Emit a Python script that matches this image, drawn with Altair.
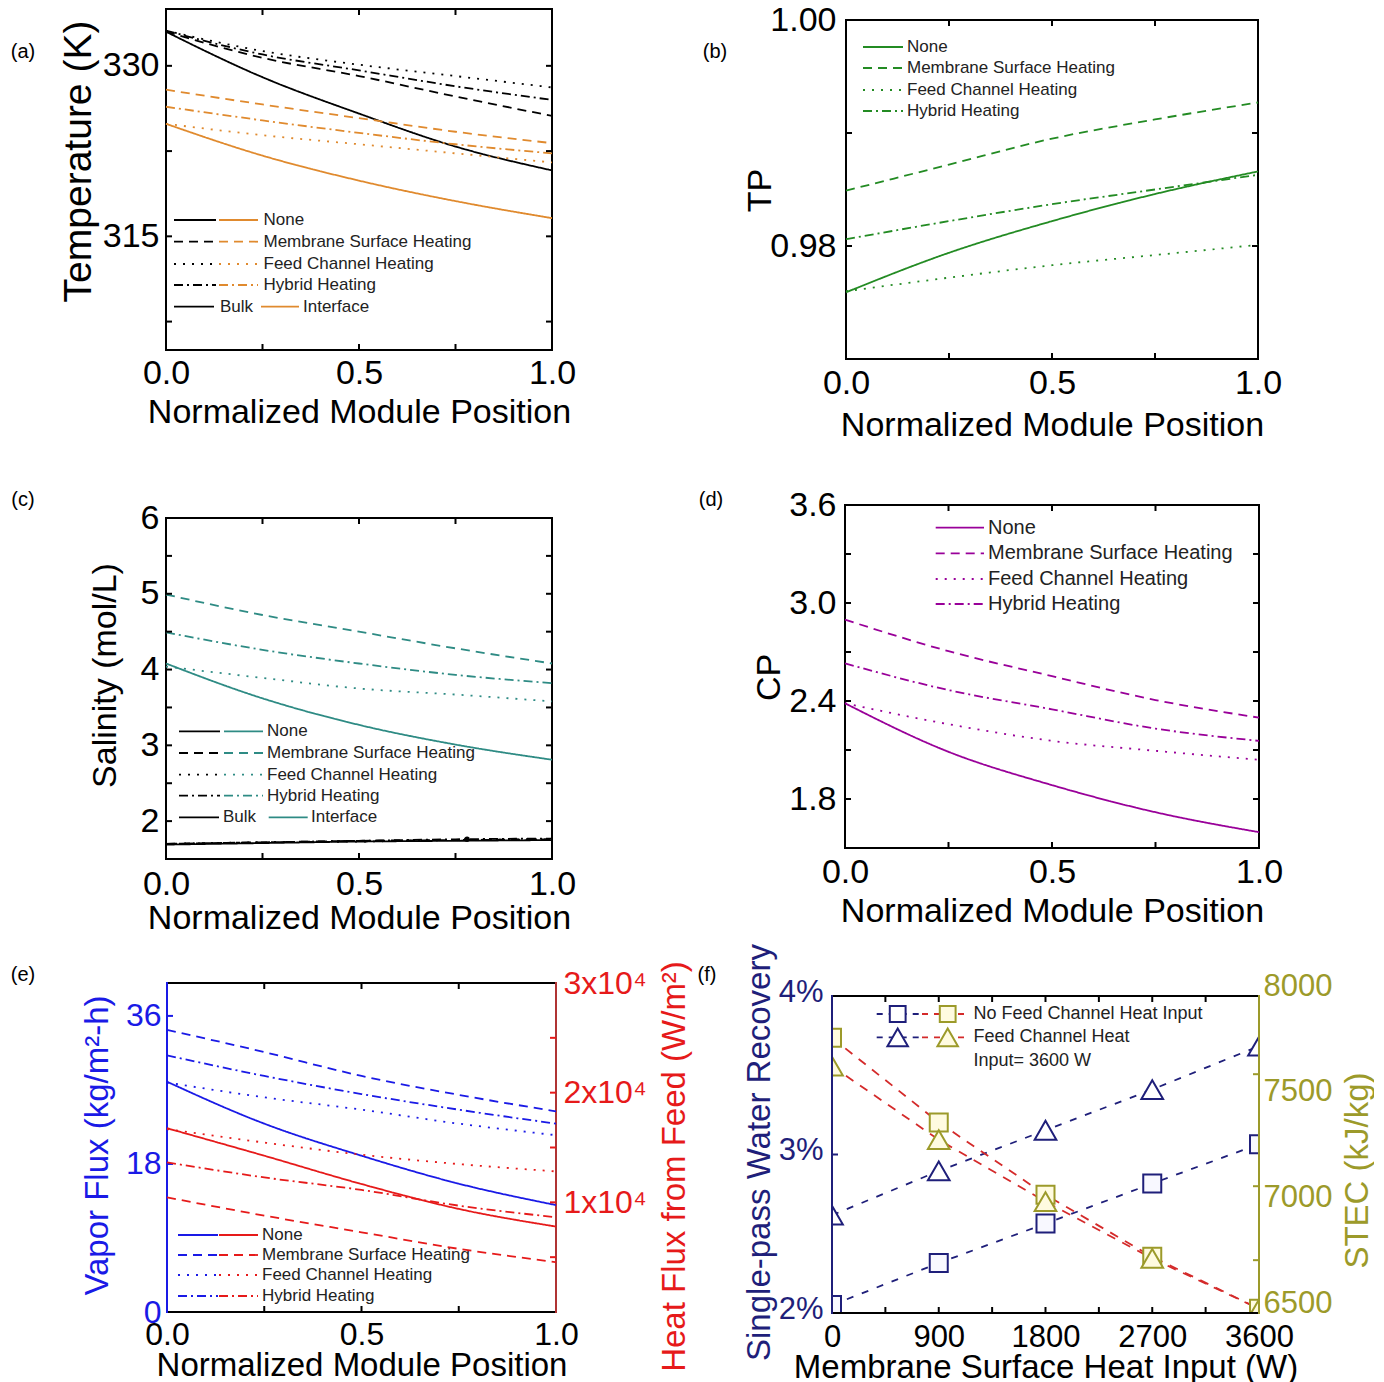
import altair as alt
import pandas as pd

FONT = "Liberation Sans"

# ---------------- data ----------------
POS = [0.0, 0.25, 0.5, 0.75, 1.0]
SERIES = ["None", "Membrane Surface Heating", "Feed Channel Heating", "Hybrid Heating"]

# (a) temperature (K)
A_BULK_NONE = [333.0, 329.0, 325.8, 322.9, 320.8]
A_BULK_MSH = [333.0, 330.7, 329.1, 327.3, 325.6]
A_BULK_FCH = [333.1, 331.3, 330.1, 329.1, 328.1]
A_BULK_HYB = [333.1, 331.0, 329.6, 328.2, 327.0]
A_INT_NONE = [324.9, 322.1, 319.9, 318.1, 316.6]
A_INT_MSH = [327.9, 326.6, 325.4, 324.2, 323.2]
A_INT_FCH = [324.9, 323.9, 323.1, 322.3, 321.5]
A_INT_HYB = [326.4, 325.2, 324.1, 323.1, 322.3]
A_YLABELS = [315, 330]
A_YTICKS = [307.5, 315, 322.5, 330]

# (b) TP
B_NONE = [0.9759, 0.9794, 0.9822, 0.9846, 0.9866]
B_MSH = [0.9849, 0.9872, 0.9895, 0.9912, 0.9927]
B_FCH = [0.9760, 0.9772, 0.9783, 0.9792, 0.9801]
B_HYB = [0.9806, 0.9822, 0.9837, 0.9850, 0.9863]
B_YLABELS = [0.98, 1.00]
B_YTICKS = [0.98, 0.99]

# (c) salinity (mol/L)
C_BULK_NONE = [1.69, 1.71, 1.73, 1.74, 1.75]
C_BULK_MSH = [1.70, 1.72, 1.74, 1.75, 1.76]
C_BULK_FCH = [1.70, 1.72, 1.73, 1.75, 1.76]
C_BULK_HYB = [1.70, 1.72, 1.74, 1.76, 1.77]
C_INT_NONE = [4.08, 3.62, 3.27, 3.01, 2.81]
C_INT_MSH = [4.99, 4.72, 4.50, 4.28, 4.08]
C_INT_FCH = [4.04, 3.89, 3.75, 3.67, 3.58]
C_INT_HYB = [4.49, 4.26, 4.08, 3.93, 3.82]
C_DOT_X = [0.78]
C_DOT_Y = [1.76]
C_YLABELS = [2, 3, 4, 5, 6]
C_YTICKS = [2, 2.5, 3, 3.5, 4, 4.5, 5, 5.5]

# (d) CP
D_NONE = [2.386, 2.089, 1.885, 1.719, 1.597]
D_MSH = [2.898, 2.705, 2.552, 2.406, 2.298]
D_FCH = [2.386, 2.258, 2.156, 2.095, 2.040]
D_HYB = [2.630, 2.467, 2.349, 2.231, 2.156]
D_YLABELS = [1.8, 2.4, 3.0, 3.6]
D_YTICKS = [1.8, 2.1, 2.4, 2.7, 3.0, 3.3]

# (e) vapor flux (kg/m2-h) and heat flux (W/m2)
E_VAP_NONE = [28.0, 22.9, 19.0, 15.6, 13.0]
E_VAP_MSH = [34.3, 31.6, 28.7, 26.4, 24.4]
E_VAP_FCH = [27.9, 26.1, 24.6, 22.9, 21.5]
E_VAP_HYB = [31.2, 28.7, 26.5, 24.6, 22.9]
E_HEAT_NONE = [16760, 14250, 11670, 9400, 7790]
E_HEAT_MSH = [10450, 8790, 7270, 5760, 4550]
E_HEAT_FCH = [16670, 15450, 14340, 13490, 12820]
E_HEAT_HYB = [13640, 12270, 11130, 9700, 8640]
E_VLABELS = [0, 18, 36]
E_VTICKS = [18, 36]
E_HLABELS = [10000, 20000, 30000]
E_HLABEL_TEXT = ["1x10⁴", "2x10⁴", "3x10⁴"]
E_HTICKS = [5000, 10000, 15000, 20000, 25000]

# (f) recovery (%) and STEC (kJ/kg) vs membrane surface heat input (W)
F_HEAT = [0, 900, 1800, 2700, 3600]
F_REC_NOFCH = [2.05, 2.315, 2.564, 2.817, 3.065]
F_REC_FCH = [2.617, 2.896, 3.153, 3.410, 3.684]
F_STEC_NOFCH = [7802, 7402, 7059, 6766, 6520]
F_STEC_FCH = [7668, 7320, 7027, 6758, 6520]
F_XLABELS = [0, 900, 1800, 2700, 3600]
F_XTICKS = [450, 900, 1350, 1800, 2250, 2700, 3150]
F_LLABELS = [2, 3, 4]
F_LTICKS = [3]
F_RLABELS = [6500, 7000, 7500, 8000]
F_RTICKS = [6750, 7100, 7630]
X_TICKS = [0.25, 0.5, 0.75]

# ---------------- styles ----------------
BLACK = "#000000"
ORANGE = "#e08a2e"
GREEN = "#238b23"
TEAL = "#2e8b84"
PURPLE = "#990099"
BLUE = "#1a1ae6"
RED = "#e61a1a"
DARKRED = "#b03434"
NAVY = "#1f1f7a"
OLIVE = "#9c9a2a"
FRED = "#d42a2a"
LEG = "#222222"
DASH = {"None": [1, 0], "Membrane Surface Heating": [9, 6],
        "Feed Channel Heating": [2, 7], "Hybrid Heating": [9, 4, 2, 4]}
ONE = pd.DataFrame({"k": [0]})
CW, CH = 427, 377  # grid cell size; each frame sits at an offset inside its cell


def long(xs, named):
    rows = []
    for s, ys in named:
        for x, y in zip(xs, ys):
            rows.append({"x": x, "y": y, "series": s})
    return pd.DataFrame(rows)


class Panel:
    def __init__(self, ox, oy, W, H, cw=CW, ch=CH):
        self.ox, self.oy, self.W, self.H = ox, oy, W, H
        self.cw, self.ch = cw, ch

    def xscale(self, dom):
        return alt.Scale(domain=dom, range=[self.ox, self.ox + self.W], nice=False, zero=False)

    def yscale(self, dom):
        return alt.Scale(domain=dom, range=[self.oy + self.H, self.oy], nice=False, zero=False)

    def xaxis(self, values, fmt, size, pad, title, title_y, tsize=34):
        return alt.Axis(values=values, format=fmt, ticks=False, tickSize=0, domain=False, grid=False,
                        offset=-(self.ch - self.oy - self.H),
                        labelFont=FONT, labelFontSize=size, labelColor="black", labelPadding=pad,
                        labelBaseline="alphabetic", labelFlush=False, labelOverlap=False,
                        title=title, titleFont=FONT, titleFontSize=tsize, titleFontWeight="normal",
                        titleColor="black", titleY=title_y, titleBaseline="alphabetic")

    def yaxis(self, values, size, pad, title, tx, ty, tsize=34, orient="left", color="black", fmt=None,
              label_expr=None, label_offset=0):
        off = -self.ox if orient == "left" else -(self.cw - self.ox - self.W)
        kw = dict(values=values, ticks=False, tickSize=0, grid=False, domain=False, orient=orient,
                  offset=off,
                  labelFont=FONT, labelFontSize=size, labelColor=color, labelPadding=pad,
                  labelAlign="right" if orient == "left" else "left", labelBaseline="middle",
                  labelOffset=label_offset, labelFlush=False, labelOverlap=False,
                  title=title, titleFont=FONT, titleFontSize=tsize, titleFontWeight="normal",
                  titleColor=color, titleAngle=270, titleAlign="center", titleBaseline="alphabetic",
                  titleX=tx, titleY=self.oy + ty)
        if fmt:
            kw["format"] = fmt
        if label_expr:
            kw["labelExpr"] = label_expr
        return alt.Axis(**kw)

    def seg(self, x0, x1, y, color, dash, width=1.8):
        return alt.Chart(ONE).mark_rule(color=color, strokeWidth=width, strokeDash=dash).encode(
            x=alt.value(self.ox + x0), x2=alt.value(self.ox + x1), y=alt.value(self.oy + y))

    def vseg(self, x, y0, y1, color, width=2):
        return alt.Chart(ONE).mark_rule(color=color, strokeWidth=width).encode(
            x=alt.value(self.ox + x), y=alt.value(self.oy + y0), y2=alt.value(self.oy + y1))

    def text(self, x, y, s, size=17, color=LEG, align="left"):
        return alt.Chart(ONE).mark_text(font=FONT, fontSize=size, color=color, align=align,
                                        baseline="middle").encode(
            x=alt.value(self.ox + x), y=alt.value(self.oy + y), text=alt.value(s))

    def frame(self, left=BLACK, right=BLACK):
        W, H = self.W, self.H
        return [self.seg(-1, W + 1, 0, BLACK, [1, 0], 2), self.seg(-1, W + 1, H, BLACK, [1, 0], 2),
                self.vseg(0, -1, H + 1, left), self.vseg(W, -1, H + 1, right)]

    def xticks(self, vals, xs, xa, L=6, color=BLACK):
        df = pd.DataFrame({"x": vals})
        base = alt.Chart(df).mark_rule(color=color, strokeWidth=2)
        yb, yt = self.oy + self.H, self.oy
        return [base.encode(x=alt.X("x:Q", scale=xs, axis=xa), y=alt.value(yb), y2=alt.value(yb - L)),
                base.encode(x=alt.X("x:Q", scale=xs, axis=xa), y=alt.value(yt), y2=alt.value(yt + L))]

    def yticks(self, vals, ys, ya, color=BLACK, L=6, sides=("left", "right")):
        df = pd.DataFrame({"y": vals})
        base = alt.Chart(df).mark_rule(color=color, strokeWidth=2)
        out = []
        xl, xr = self.ox, self.ox + self.W
        if "left" in sides:
            out.append(base.encode(y=alt.Y("y:Q", scale=ys, axis=ya), x=alt.value(xl), x2=alt.value(xl + L)))
        if "right" in sides:
            out.append(base.encode(y=alt.Y("y:Q", scale=ys, axis=ya), x=alt.value(xr), x2=alt.value(xr - L)))
        return out


def dash_enc():
    return alt.StrokeDash("series:N", scale=alt.Scale(domain=SERIES, range=[DASH[s] for s in SERIES]),
                          legend=None)


def line_layer(df, color, xs, ys, xa, ya, width=1.8):
    return alt.Chart(df).mark_line(color=color, strokeWidth=width, interpolate="monotone").encode(
        x=alt.X("x:Q", scale=xs, axis=xa),
        y=alt.Y("y:Q", scale=ys, axis=ya),
        strokeDash=dash_enc(),
        detail="series:N",
    )


XT = "Normalized Module Position"

# ---------------- (a) ----------------
p = Panel(0, 0, 386, 341)
xs = p.xscale([0, 1]); ys = p.yscale([305, 335])
xa = p.xaxis([0, 0.5, 1], ".1f", 34, 33, XT, 72)
ya = p.yaxis(A_YLABELS, 34, 7, "Temperature (K)", -76, 152, tsize=39, fmt="d")
bulkA = long(POS, [("None", A_BULK_NONE), ("Membrane Surface Heating", A_BULK_MSH),
                   ("Feed Channel Heating", A_BULK_FCH), ("Hybrid Heating", A_BULK_HYB)])
intA = long(POS, [("None", A_INT_NONE), ("Membrane Surface Heating", A_INT_MSH),
                  ("Feed Channel Heating", A_INT_FCH), ("Hybrid Heating", A_INT_HYB)])
L = p.frame() + [line_layer(bulkA, BLACK, xs, ys, xa, ya), line_layer(intA, ORANGE, xs, ys, xa, ya)]
L += p.xticks(X_TICKS, xs, xa) + p.yticks(A_YTICKS, ys, ya)
for s, ry in zip(SERIES, [211, 232.7, 255, 276]):
    L += [p.seg(8, 50, ry, BLACK, DASH[s]), p.seg(53, 92, ry, ORANGE, DASH[s]), p.text(97.5, ry, s)]
L += [p.seg(8, 48, 297.7, BLACK, DASH["None"]), p.text(54, 297.7, "Bulk"),
      p.seg(95, 133, 297.7, ORANGE, DASH["None"]), p.text(137, 297.7, "Interface"),
      p.text(-143, 43, "(a)", 20, BLACK, "center")]
pa = alt.layer(*L).properties(width=p.cw, height=p.ch)

# ---------------- (b) ----------------
p = Panel(14, 11, 412, 339)
xs = p.xscale([0, 1]); ys = p.yscale([0.97, 1.0])
xa = p.xaxis([0, 0.5, 1], ".1f", 34, 34, XT, 76)
ya = p.yaxis(B_YLABELS, 34, 10, "TP", -76, 170, fmt=".2f")
dfB = long(POS, [("None", B_NONE), ("Membrane Surface Heating", B_MSH),
                 ("Feed Channel Heating", B_FCH), ("Hybrid Heating", B_HYB)])
L = p.frame() + [line_layer(dfB, GREEN, xs, ys, xa, ya)]
L += p.xticks(X_TICKS, xs, xa) + p.yticks(B_YTICKS, ys, ya)
for s, ry in zip(SERIES, [27, 48, 70, 91]):
    L += [p.seg(17, 57, ry, GREEN, DASH[s]), p.text(61, ry, s)]
L += [p.text(-131, 32, "(b)", 20, BLACK, "center")]
pb = alt.layer(*L).properties(width=p.cw, height=p.ch)

# ---------------- (c) ----------------
p = Panel(0, 35, 386, 341)
xs = p.xscale([0, 1]); ys = p.yscale([1.5, 6])
xa = p.xaxis([0, 0.5, 1], ".1f", 34, 35, XT, 69)
ya = p.yaxis(C_YLABELS, 34, 7, "Salinity (mol/L)", -51, 157, fmt="d")
bulkC = long(POS, [("None", C_BULK_NONE), ("Membrane Surface Heating", C_BULK_MSH),
                   ("Feed Channel Heating", C_BULK_FCH), ("Hybrid Heating", C_BULK_HYB)])
intC = long(POS, [("None", C_INT_NONE), ("Membrane Surface Heating", C_INT_MSH),
                  ("Feed Channel Heating", C_INT_FCH), ("Hybrid Heating", C_INT_HYB)])
dotC = pd.DataFrame({"x": C_DOT_X, "y": C_DOT_Y})
L = p.frame() + [line_layer(bulkC, BLACK, xs, ys, xa, ya), line_layer(intC, TEAL, xs, ys, xa, ya),
                 alt.Chart(dotC).mark_point(filled=True, color=BLACK, size=30, opacity=1).encode(
                     x=alt.X("x:Q", scale=xs, axis=xa), y=alt.Y("y:Q", scale=ys, axis=ya))]
L += p.xticks(X_TICKS, xs, xa) + p.yticks(C_YTICKS, ys, ya)
for s, ry in zip(SERIES, [213.4, 235, 256.7, 277.7]):
    L += [p.seg(13, 54, ry, BLACK, DASH[s]), p.seg(58, 97, ry, TEAL, DASH[s]), p.text(101, ry, s)]
L += [p.seg(13, 53, 299.4, BLACK, DASH["None"]), p.text(57, 299.4, "Bulk"),
      p.seg(102.7, 141.7, 299.4, TEAL, DASH["None"]), p.text(145, 299.4, "Interface"),
      p.text(-143, -18, "(c)", 20, BLACK, "center")]
pc = alt.layer(*L).properties(width=p.cw, height=p.ch)

# ---------------- (d) ----------------
p = Panel(13, 22, 414, 343)
xs = p.xscale([0, 1]); ys = p.yscale([1.5, 3.6])
xa = p.xaxis([0, 0.5, 1], ".1f", 34, 34, XT, 73)
ya = p.yaxis(D_YLABELS, 34, 9, "CP", -66, 172, fmt=".1f")
dfD = long(POS, [("None", D_NONE), ("Membrane Surface Heating", D_MSH),
                 ("Feed Channel Heating", D_FCH), ("Hybrid Heating", D_HYB)])
L = p.frame() + [line_layer(dfD, PURPLE, xs, ys, xa, ya)]
L += p.xticks(X_TICKS, xs, xa) + p.yticks(D_YTICKS, ys, ya)
for s, ry in zip(SERIES, [22.7, 48.3, 74, 99]):
    L += [p.seg(90.7, 139, ry, PURPLE, DASH[s]), p.text(143, ry, s, 20)]
L += [p.text(-134, -5, "(d)", 20, BLACK, "center")]
pdd = alt.layer(*L).properties(width=p.cw, height=p.ch)

# ---------------- (e) ----------------
p = Panel(1, 26, 389, 329)
xs = p.xscale([0, 1]); ysv = p.yscale([0, 40]); ysh = p.yscale([0, 30000])
xa = p.xaxis([0, 0.5, 1], ".1f", 32, 32, XT, 63, tsize=33)
yav = p.yaxis(E_VLABELS, 32, 6, "Vapor Flux (kg/m²-h)", -60, 162, tsize=33, color=BLUE, fmt="d")
hexpr = "".join(f"datum.value == {v} ? '{t}' : " for v, t in zip(E_HLABELS, E_HLABEL_TEXT)) + "''"
yah = p.yaxis(E_HLABELS, 32, 7, "Heat Flux from Feed (W/m²)", 128, 183, tsize=33, orient="right",
              color=RED, label_expr=hexpr)
vapE = long(POS, [("None", E_VAP_NONE), ("Membrane Surface Heating", E_VAP_MSH),
                  ("Feed Channel Heating", E_VAP_FCH), ("Hybrid Heating", E_VAP_HYB)])
heatE = long(POS, [("None", E_HEAT_NONE), ("Membrane Surface Heating", E_HEAT_MSH),
                   ("Feed Channel Heating", E_HEAT_FCH), ("Hybrid Heating", E_HEAT_HYB)])
blue = p.frame(BLUE, DARKRED) + [line_layer(vapE, BLUE, xs, ysv, xa, yav)]
blue += p.xticks(X_TICKS, xs, xa) + p.yticks(E_VTICKS, ysv, yav, BLUE, sides=("left",))
for s, ry in zip(SERIES, [252, 272, 292, 313]):
    blue += [p.seg(11, 51, ry, BLUE, DASH[s]), p.seg(52, 91, ry, RED, DASH[s]), p.text(95, ry, s)]
blue += [p.text(-144, -8, "(e)", 20, BLACK, "center")]
red = [line_layer(heatE, RED, xs, ysh, xa, yah)] + p.yticks(E_HTICKS, ysh, yah, RED, sides=("right",))
pe = alt.layer(alt.layer(*blue), alt.layer(*red)).resolve_scale(y="independent").properties(
    width=p.cw, height=p.ch)

# ---------------- (f) ----------------
# the view ends at the frame's left, right and bottom edges so edge markers are clipped like the original
p = Panel(0, 39, 427, 317, cw=427, ch=356)
xs = p.xscale([0, 3600]); ysl = p.yscale([2, 4]); ysr = p.yscale([6500, 8000])
xa = p.xaxis(F_XLABELS, "d", 31, 33, "Membrane Surface Heat Input (W)", 64, tsize=33)
yal = p.yaxis(F_LLABELS, 31, 9, "Single-pass Water Recovery", -63, 156, tsize=33, color=NAVY,
              label_expr="datum.value + '%'", label_offset=-4)
yar = p.yaxis(F_RLABELS, 31, 4, "STEC (kJ/kg)", 108, 174, tsize=33, orient="right", color=OLIVE,
              fmt="d", label_offset=-10)
recF = long(F_HEAT, [("no", F_REC_NOFCH), ("fch", F_REC_FCH)])
stecF = long(F_HEAT, [("no", F_STEC_NOFCH), ("fch", F_STEC_FCH)])


def markers(df, series, shape, size, stroke, fill, ys, ya):
    return alt.Chart(df[df.series == series]).mark_point(
        shape=shape, size=size, filled=True, fill=fill, stroke=stroke, strokeWidth=2,
        opacity=1, fillOpacity=1, clip=True).encode(
        x=alt.X("x:Q", scale=xs, axis=xa), y=alt.Y("y:Q", scale=ys, axis=ya))


def lmark(x, y, shape, size, stroke, fill):
    return alt.Chart(ONE).mark_point(shape=shape, size=size, filled=True, fill=fill, stroke=stroke,
                                     strokeWidth=2, opacity=1, fillOpacity=1).encode(
        x=alt.value(p.ox + x), y=alt.value(p.oy + y))


navy = [
    alt.Chart(recF).mark_line(color=NAVY, strokeWidth=1.8, strokeDash=[7, 9], clip=True).encode(
        x=alt.X("x:Q", scale=xs, axis=xa), y=alt.Y("y:Q", scale=ysl, axis=yal), detail="series:N"),
    markers(recF, "no", "square", 324, NAVY, "#f8f8ff", ysl, yal),
    markers(recF, "fch", "triangle-up", 470, NAVY, "#ffffff", ysl, yal)]
navy += p.xticks(F_XTICKS, xs, xa) + p.yticks(F_LTICKS, ysl, yal, NAVY, sides=("left",))
navy += [p.seg(44.7, 90, 18, NAVY, [6, 6]), p.seg(90, 137, 18, FRED, [6, 6]),
         p.seg(44.7, 90, 41.3, NAVY, [6, 6]), p.seg(90, 137, 41.3, FRED, [6, 6]),
         lmark(65.7, 18, "square", 250, NAVY, "#ffffff"),
         lmark(115.7, 18, "square", 250, OLIVE, "#fffbe0"),
         lmark(65.7, 41.3, "triangle-up", 420, NAVY, "#ffffff"),
         lmark(115.7, 41.3, "triangle-up", 420, OLIVE, "#fffbe0"),
         p.text(141.4, 18, "No Feed Channel Heat Input", 18),
         p.text(141.4, 41.3, "Feed Channel Heat", 18),
         p.text(141.4, 64.7, "Input= 3600 W", 18),
         p.text(-125, -21, "(f)", 20, BLACK, "center")]
olive = [alt.Chart(stecF).mark_line(color=FRED, strokeWidth=1.8, strokeDash=[9, 8], clip=True).encode(
    x=alt.X("x:Q", scale=xs, axis=xa), y=alt.Y("y:Q", scale=ysr, axis=yar), detail="series:N"),
    markers(stecF, "no", "square", 324, OLIVE, "#fffbe0", ysr, yar),
    markers(stecF, "fch", "triangle-up", 470, OLIVE, "#fffbe0", ysr, yar)]
olive += p.yticks(F_RTICKS, ysr, yar, OLIVE, sides=("right",))
olive += p.frame(NAVY, OLIVE)
pf = alt.layer(alt.layer(*navy), alt.layer(*olive)).resolve_scale(y="independent").properties(
    width=p.cw, height=p.ch)

# ---------------- layout ----------------
chart = alt.ConcatChart(concat=[pa, pb, pc, pdd, pe, pf], columns=2,
                        spacing={"row": 97, "column": 239}, bounds="flush").configure_view(
    strokeWidth=0).properties(padding={"left": 2, "top": -5, "right": 0, "bottom": 0}, background="white")

chart.save("out.html", embed_options={"renderer": "svg", "actions": False})
